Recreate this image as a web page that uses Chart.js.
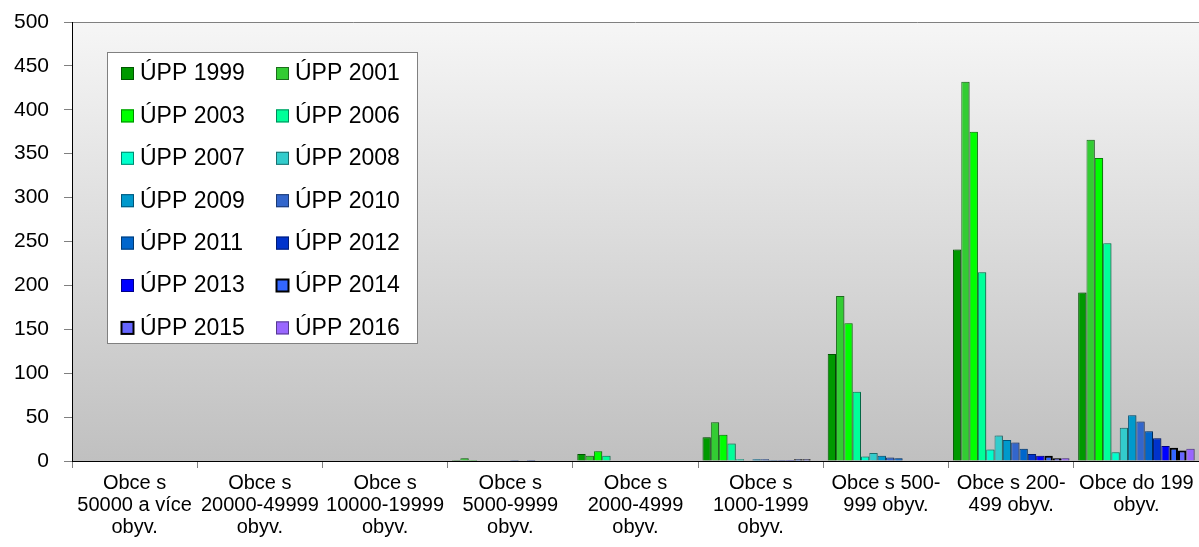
<!DOCTYPE html>
<html>
<head>
<meta charset="utf-8">
<script src="https://cdn.jsdelivr.net/npm/chart.js@4.4.1/dist/chart.umd.min.js"></script>
<style>
  html, body { margin: 0; padding: 0; background: #fff; }
  #box { width: 1199px; height: 547px; position: relative; }
</style>
</head>
<body>
<div id="box"><canvas id="graf"></canvas></div>
<script>
// kategorie (velikost obce)
const kategorie = [
  ['Obce s', '50000 a více', 'obyv.'],
  ['Obce s', '20000-49999', 'obyv.'],
  ['Obce s', '10000-19999', 'obyv.'],
  ['Obce s', '5000-9999', 'obyv.'],
  ['Obce s', '2000-4999', 'obyv.'],
  ['Obce s', '1000-1999', 'obyv.'],
  ['Obce s 500-', '999 obyv.'],
  ['Obce s 200-', '499 obyv.'],
  ['Obce do 199', 'obyv.']
];

const nazvyRad = ['ÚPP 1999', 'ÚPP 2001', 'ÚPP 2003', 'ÚPP 2006', 'ÚPP 2007', 'ÚPP 2008', 'ÚPP 2009',
  'ÚPP 2010', 'ÚPP 2011', 'ÚPP 2012', 'ÚPP 2013', 'ÚPP 2014', 'ÚPP 2015', 'ÚPP 2016'];

// hodnoty po kategoriich
const upp1999 = [0, 0, 0, 1, 8, 27, 122, 241, 192];
const upp2001 = [0, 0, 0, 3, 6, 44, 188, 432, 366];
const upp2003 = [0, 0, 0, 1, 11, 30, 157, 375, 345];
const upp2006 = [0, 0, 0, 0, 6, 20, 79, 215, 248];
const upp2007 = [0, 0, 0, 0, 0, 2, 5, 13, 10];
const upp2008 = [0, 0, 0, 0, 0, 0, 9, 29, 38];
const upp2009 = [0, 0, 0, 0, 0, 2, 6, 24, 52];
const upp2010 = [0, 0, 0, 1, 0, 2, 4, 21, 45];
const upp2011 = [0, 0, 0, 0, 0, 1, 3, 14, 34];
const upp2012 = [0, 0, 0, 1, 0, 1, 0, 8, 26];
const upp2013 = [0, 0, 0, 0, 0, 1, 0, 6, 17];
const upp2014 = [0, 0, 0, 0, 0, 2, 0, 6, 15];
const upp2015 = [0, 0, 0, 0, 0, 2, 0, 3, 12];
const upp2016 = [0, 0, 0, 0, 0, 0, 0, 3, 14];

const hodnoty = [upp1999, upp2001, upp2003, upp2006, upp2007, upp2008, upp2009,
  upp2010, upp2011, upp2012, upp2013, upp2014, upp2015, upp2016];

const yTicks = [0, 50, 100, 150, 200, 250, 300, 350, 400, 450, 500];

const barvy = ['#009900', '#33cc33', '#00ff00', '#00ff99', '#00ffcc', '#33cccc', '#0099cc',
  '#3366cc', '#0066cc', '#0033cc', '#0000ff', '#3366ff', '#6666ff', '#9966ff'];
const okraje = ['#005500', '#1c6e1c', '#008800', '#00885a', '#00886e', '#1c6e6e', '#00557a',
  '#1c3a73', '#003a73', '#001c73', '#000088', '#000000', '#000000', '#553a8c'];
const silkaOkraje = [1, 1, 1, 1, 1, 1, 1, 1, 1, 1, 1, 2, 2, 1];

const pismo = "'Liberation Sans', Arial, sans-serif";

// pozadi plochy grafu - prechod z bile do sede
const pozadi = {
  id: 'pozadi',
  beforeDraw(chart) {
    const a = chart.chartArea;
    const ctx = chart.ctx;
    const g = ctx.createLinearGradient(0, a.top, 0, a.bottom);
    g.addColorStop(0, '#f6f6f6');
    g.addColorStop(1, '#c0c0c0');
    ctx.save();
    ctx.fillStyle = g;
    ctx.fillRect(a.left, a.top, a.right - a.left, a.bottom - a.top);
    ctx.strokeStyle = '#808080';
    ctx.lineWidth = 1;
    ctx.beginPath();
    ctx.moveTo(a.left, a.top + 0.5);
    ctx.lineTo(a.right, a.top + 0.5);
    ctx.stroke();
    ctx.restore();
  }
};

// stin sloupcu
const stin = {
  id: 'stin',
  beforeDatasetsDraw(chart) {
    const ctx = chart.ctx;
    ctx.save();
    ctx.shadowColor = 'rgba(0,0,0,0.25)';
    ctx.shadowOffsetX = 2;
    ctx.shadowOffsetY = 0;
    ctx.shadowBlur = 0;
  },
  afterDatasetsDraw(chart) {
    chart.ctx.restore();
  }
};

// legenda v plose grafu, 2 sloupce
const legenda = {
  id: 'legenda',
  afterDraw(chart) {
    const ctx = chart.ctx;
    const x0 = 107, y0 = 52, w = 310, h = 291;
    ctx.save();
    ctx.fillStyle = '#ffffff';
    ctx.fillRect(x0, y0, w, h);
    ctx.strokeStyle = '#808080';
    ctx.lineWidth = 1;
    ctx.strokeRect(x0 + 0.5, y0 + 0.5, w, h);
    ctx.font = '23px ' + pismo;
    ctx.textBaseline = 'middle';
    ctx.textAlign = 'left';
    chart.data.datasets.forEach(function (ds, i) {
      const col = i % 2, row = Math.floor(i / 2);
      const sx = x0 + 14 + col * 155;
      const cy = y0 + 21 + row * 42.4;
      ctx.fillStyle = ds.backgroundColor;
      ctx.fillRect(sx, cy - 6, 13, 13);
      ctx.strokeStyle = ds.borderColor;
      ctx.lineWidth = ds.borderWidth;
      ctx.strokeRect(sx + 0.5, cy - 5.5, 12, 12);
      ctx.fillStyle = '#000';
      ctx.fillText(ds.label, sx + 19, cy + 1);
    });
    ctx.restore();
  }
};

const datasety = [];
for (let i = 0; i < nazvyRad.length; i++) {
  datasety.push({
    label: nazvyRad[i],
    data: hodnoty[i],
    backgroundColor: barvy[i],
    borderColor: okraje[i],
    borderWidth: silkaOkraje[i],
    borderSkipped: 'bottom'
  });
}

const ctx = document.getElementById('graf').getContext('2d');
const graf = new Chart(ctx, {
  type: 'bar',
  data: { labels: kategorie, datasets: datasety },
  options: {
    responsive: true,
    maintainAspectRatio: false,
    animation: false,
    categoryPercentage: 0.93,
    barPercentage: 1,
    layout: { padding: { top: 22, right: 0, left: 0, bottom: 0 } },
    plugins: {
      legend: { display: false },
      tooltip: { enabled: false }
    },
    scales: {
      x: {
        grid: {
          offset: true,
          drawOnChartArea: false,
          drawTicks: true,
          tickLength: 7,
          color: '#808080'
        },
        border: { color: '#000', width: 1 },
        ticks: {
          color: '#000',
          font: { family: pismo, size: 20, lineHeight: 1.1 },
          maxRotation: 0,
          autoSkip: false,
          padding: 4
        },
        afterFit(scale) { scale.height = 86; }
      },
      y: {
        min: 0,
        max: 500,
        afterBuildTicks(scale) { scale.ticks = yTicks.map(v => ({ value: v })); },
        grid: {
          drawOnChartArea: false,
          drawTicks: true,
          tickLength: 8,
          color: '#808080'
        },
        border: { color: '#000', width: 1 },
        ticks: {
          color: '#000',
          font: { family: pismo, size: 21 },
          padding: 15
        },
        afterFit(scale) {
          scale.width = 72;
          scale.paddingTop = 0;
          scale.paddingBottom = 0;
        }
      }
    }
  },
  plugins: [pozadi, stin, legenda]
});
</script>
</body>
</html>
